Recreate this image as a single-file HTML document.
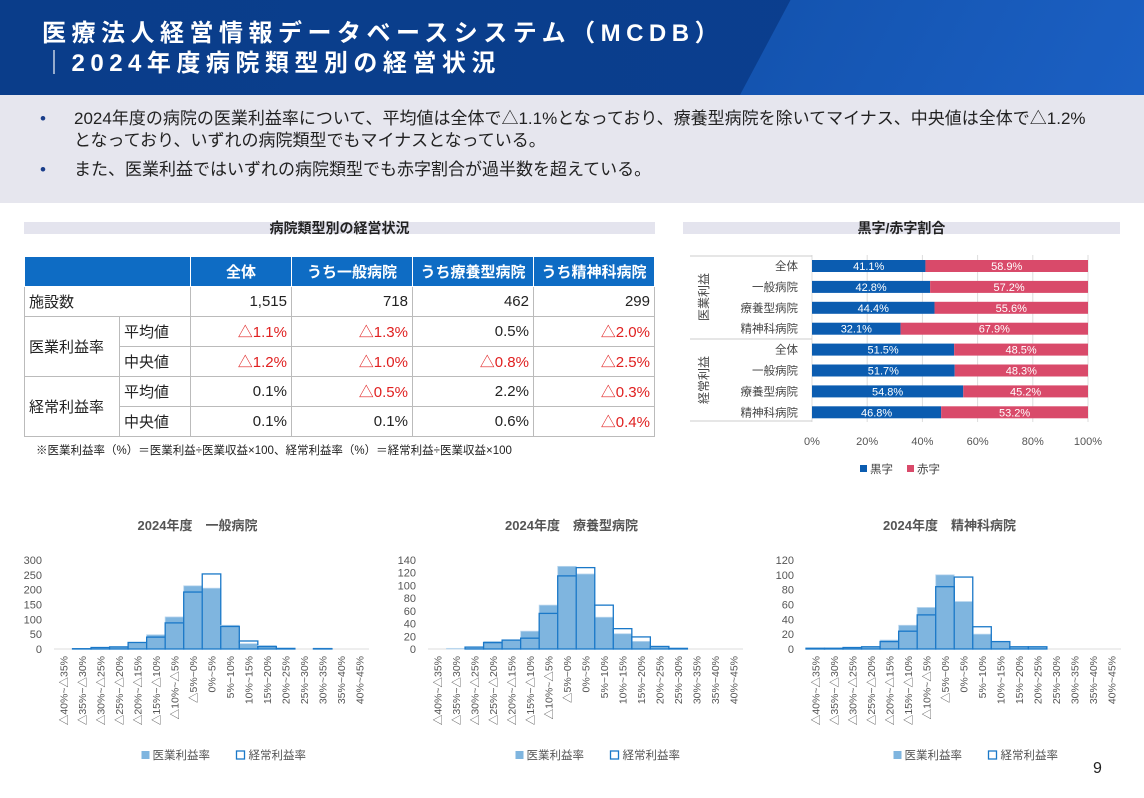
<!DOCTYPE html>
<html><head><meta charset="utf-8"><style>
body{margin:0;width:1144px;height:798px;position:relative;overflow:hidden;background:#fff;font-family:"Liberation Sans","Noto Sans CJK JP",sans-serif;color:#222}
.hd{position:absolute;left:0;top:0;width:1144px;height:95px;background:linear-gradient(90deg,#0a3d8a,#0b3f90);overflow:hidden}
.hd .r{position:absolute;top:0;width:500px;height:95px;background:linear-gradient(90deg,#1454b0,#1d63c8);transform:skewX(-28deg);transform-origin:0 100%;left:740px}
.hd .t{position:absolute;left:42px;top:19px;color:#fff;font-size:24px;font-weight:bold;line-height:30px;letter-spacing:5.5px}
.band{position:absolute;left:0;top:95px;width:1144px;height:108px;background:#e6e6ee}
.band ul{margin:0;padding:0;list-style:none;position:absolute;left:40px;top:13px;width:1060px;font-size:17px;line-height:22px}
.band li{position:relative;padding-left:34px;margin-bottom:7px}
.band li:before{content:"•";position:absolute;left:0;color:#1a3d8a}
.st{position:absolute;height:12px;background:#e4e4ee;font-size:14px;font-weight:bold;text-align:center;line-height:12px}
table{position:absolute;left:24px;top:256px;border-collapse:collapse;font-size:15px}
td{border:1px solid #bbb;height:29px;padding:0 4px;}
.h td{background:#0e6cc4;color:#fff;font-weight:bold;text-align:center;border-color:#fff}
.n{text-align:right}.red{color:#e02020}
.note{position:absolute;left:36px;top:442px;font-size:11.5px}
svg text{font-family:"Liberation Sans","Noto Sans CJK JP",sans-serif}
</style></head><body>
<div class="hd"><div class="r"></div><div class="t">医療法人経営情報データベースシステム（MCDB）<br>｜2024年度病院類型別の経営状況</div></div>
<div class="band"><ul>
<li>2024年度の病院の医業利益率について、平均値は全体で△1.1%となっており、療養型病院を除いてマイナス、中央値は全体で△1.2%となっており、いずれの病院類型でもマイナスとなっている。</li>
<li>また、医業利益ではいずれの病院類型でも赤字割合が過半数を超えている。</li></ul></div>
<div class="st" style="left:24px;top:222px;width:631px">病院類型別の経営状況</div>
<div class="st" style="left:683px;top:222px;width:437px">黒字/赤字割合</div>
<table>
<tr class="h"><td colspan="2" style="width:156px"></td><td style="width:92px">全体</td><td style="width:112px">うち一般病院</td><td style="width:112px">うち療養型病院</td><td style="width:112px">うち精神科病院</td></tr>
<tr><td colspan="2">施設数</td><td class="n">1,515</td><td class="n">718</td><td class="n">462</td><td class="n">299</td></tr>
<tr><td rowspan="2" style="width:86px">医業利益率</td><td style="width:62px">平均値</td><td class="n red">△1.1%</td><td class="n red">△1.3%</td><td class="n">0.5%</td><td class="n red">△2.0%</td></tr>
<tr><td>中央値</td><td class="n red">△1.2%</td><td class="n red">△1.0%</td><td class="n red">△0.8%</td><td class="n red">△2.5%</td></tr>
<tr><td rowspan="2">経常利益率</td><td>平均値</td><td class="n">0.1%</td><td class="n red">△0.5%</td><td class="n">2.2%</td><td class="n red">△0.3%</td></tr>
<tr><td>中央値</td><td class="n">0.1%</td><td class="n">0.1%</td><td class="n">0.6%</td><td class="n red">△0.4%</td></tr>
</table>
<div class="note">※医業利益率（%）＝医業利益÷医業収益×100、経常利益率（%）＝経常利益÷医業収益×100</div>
<svg id="s" width="1144" height="798" style="position:absolute;left:0;top:0"></svg>
<div style="position:absolute;left:1093px;top:760px;font-size:16px">9</div>
<script>
var s='',sv=document.getElementById('s');
var L=['全体','一般病院','療養型病院','精神科病院','全体','一般病院','療養型病院','精神科病院'];
var V=[41.1,42.8,44.4,32.1,51.5,51.7,54.8,46.8];
var x0=812,W=276;
for(var i=0;i<=5;i++){var gx=x0+W*i/5;s+='<line x1="'+gx+'" y1="255" x2="'+gx+'" y2="422" stroke="#ddd"/>';s+='<text x="'+gx+'" y="445" font-size="11" fill="#555" text-anchor="middle">'+(i*20)+'%</text>';}
s+='<line x1="690" y1="256" x2="812" y2="256" stroke="#ccc"/><line x1="690" y1="339" x2="812" y2="339" stroke="#ccc"/><line x1="690" y1="421" x2="812" y2="421" stroke="#ccc"/>';
for(var i=0;i<8;i++){var cy=266+i*20.9,b=W*V[i]/100;
s+='<rect x="'+x0+'" y="'+(cy-6)+'" width="'+b+'" height="12" fill="#0b5cb0"/><rect x="'+(x0+b)+'" y="'+(cy-6)+'" width="'+(W-b)+'" height="12" fill="#d94a6a"/>';
s+='<text x="'+(x0+b/2)+'" y="'+(cy+4)+'" font-size="11" fill="#fff" text-anchor="middle">'+V[i].toFixed(1)+'%</text>';
s+='<text x="'+(x0+b+(W-b)/2)+'" y="'+(cy+4)+'" font-size="11" fill="#fff" text-anchor="middle">'+(100-V[i]).toFixed(1)+'%</text>';
s+='<text x="798" y="'+(cy+4)+'" font-size="11.5" fill="#444" text-anchor="end">'+L[i]+'</text>';}
s+='<text transform="translate(708,297) rotate(-90)" font-size="12" fill="#444" text-anchor="middle">医業利益</text>';
s+='<text transform="translate(708,380) rotate(-90)" font-size="12" fill="#444" text-anchor="middle">経常利益</text>';
s+='<rect x="860" y="465" width="7" height="7" fill="#0b5cb0"/><text x="870" y="473" font-size="11.5" fill="#444">黒字</text><rect x="907" y="465" width="7" height="7" fill="#d94a6a"/><text x="917" y="473" font-size="11.5" fill="#444">赤字</text>';
var cats=['△40%~△35%','△35%~△30%','△30%~△25%','△25%~△20%','△20%~△15%','△15%~△10%','△10%~△5%','△5%~0%','0%~5%','5%~10%','10%~15%','15%~20%','20%~25%','25%~30%','30%~35%','35%~40%','40%~45%'];
function H(ax,bx,max,step,A,B,title){
 var base=649,top=560,bw=(bx-ax)/17,k=(base-top)/max;
 s+='<text x="'+((ax+bx)/2-14)+'" y="530" font-size="13" font-weight="bold" fill="#555" text-anchor="middle">'+title+'</text>';
 for(var v=0;v<=max;v+=step){s+='<text x="'+(ax-12)+'" y="'+(base-v*k+4)+'" font-size="11" fill="#555" text-anchor="end">'+v+'</text>';}
 s+='<line x1="'+ax+'" y1="'+base+'" x2="'+bx+'" y2="'+base+'" stroke="#ddd"/>';
 for(var i=0;i<17;i++){var x=ax+i*bw;
  if(A[i])s+='<rect x="'+x+'" y="'+(base-A[i]*k)+'" width="'+bw+'" height="'+A[i]*k+'" fill="#7fb5df" stroke="#b9d6ee" stroke-width="0.8"/>';
  if(B[i])s+='<rect x="'+x+'" y="'+(base-B[i]*k)+'" width="'+bw+'" height="'+B[i]*k+'" fill="none" stroke="#1a78c8" stroke-width="1.3"/>';
  var cx=x+bw/2+4;s+='<text transform="translate('+cx+',656) rotate(-90)" font-size="10.5" fill="#555" text-anchor="end">'+cats[i]+'</text>';}
 var lx=(ax+bx)/2-70;
 s+='<rect x="'+lx+'" y="751" width="8" height="8" fill="#7fb5df"/><text x="'+(lx+11)+'" y="759" font-size="11.5" fill="#555">医業利益率</text>';
 s+='<rect x="'+(lx+95)+'" y="751" width="8" height="8" fill="#fff" stroke="#1a78c8" stroke-width="1.3"/><text x="'+(lx+107)+'" y="759" font-size="11.5" fill="#555">経常利益率</text>';
}
H(54,369,300,50,[0,1,3,8,22,48,108,213,205,80,18,12,2,0,3,0,0],[0,1,5,7,22,40,88,192,253,76,27,8,2,0,1,0,0],'2024年度　一般病院');
H(428,743,140,20,[0,1,2,12,14,28,69,130,118,50,24,12,4,0,0,0,0],[0,0,3,10,14,17,56,115,128,69,32,19,4,1,0,0,0],'2024年度　療養型病院');
H(806,1121,120,20,[1,1,2,3,12,32,56,100,64,20,10,3,3,0,0,0,0],[1,1,2,3,10,24,46,84,97,30,10,3,3,0,0,0,0],'2024年度　精神科病院');
sv.innerHTML=s;
</script>
</body></html>
